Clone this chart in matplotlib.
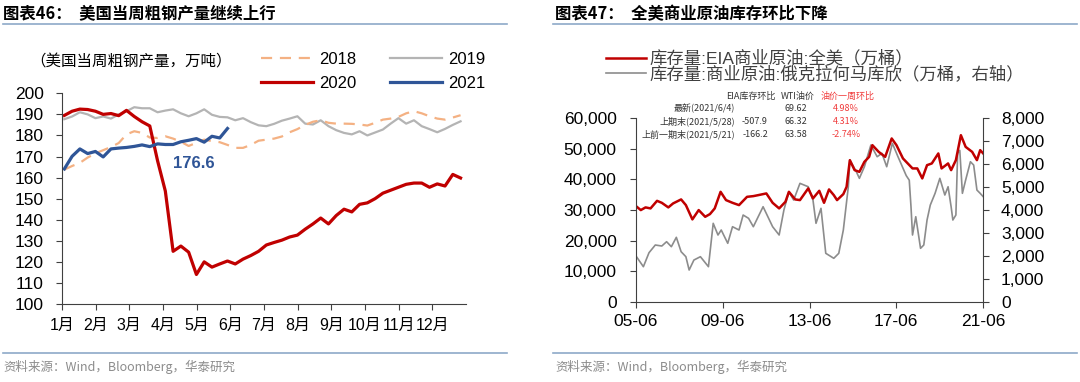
import matplotlib
matplotlib.use('Agg')
import matplotlib.pyplot as plt
from matplotlib.lines import Line2D
import numpy as np

plt.rcParams['font.family'] = ['Liberation Sans', 'Noto Sans CJK SC']

# ---------------- left chart: US weekly crude steel output (万吨) ----------------
months = ['1月', '2月', '3月', '4月', '5月', '6月', '7月', '8月', '9月', '10月', '11月', '12月']

steel_2018 = [163.8, 165.5, 167, 169.5, 171.5, 173, 174.5, 176.4, 180.5, 182, 181.2, 179,
              178.8, 179.6, 178.5, 177, 175, 176.5, 178, 177.3, 176.8, 175.5, 174.1, 174.1,
              175.5, 177.5, 178, 178.5, 179.5, 181.5, 183, 185, 186.5, 187.2, 186, 185.6,
              185.6, 185.5, 185.2, 184.7, 186, 187.5, 188, 188.8, 190.5, 191.5, 190.5, 189.1,
              188, 187.5, 188.5, 189.6]
steel_2019 = [187.7, 189, 191, 190, 188.2, 189, 188, 190, 191.5, 193.4, 192.9, 192.9,
              191, 191.8, 192.4, 190.5, 189.1, 190.5, 192.4, 189.8, 188.8, 188.6, 187.2, 188.2,
              186.3, 184.8, 184.4, 185.5, 187, 188, 189.1, 185.6, 185.2, 187.2, 184.4, 182.5,
              181.2, 180.5, 182, 180, 181.4, 182.8, 185.6, 188.2, 185.6, 187.2, 184.4, 183,
              181.5, 183.1, 185, 186.7]
steel_2020 = [189.5, 191.5, 192.5, 192.3, 191.5, 190, 190.4, 189.4, 191.9, 189, 186.5, 184.5,
              168, 153.6, 125, 127.5, 124.6, 114, 120, 117.5, 119, 120.4, 119, 121.3,
              123, 125, 128, 129.2, 130.3, 131.8, 132.7, 135.5, 138, 140.8, 138, 142,
              145, 143.7, 147.3, 148, 150, 152.6, 154, 155.4, 156.8, 157.4, 157.4, 155.4,
              157, 156, 161.5, 159.8]
steel_2021 = [164.1, 170.1, 173.6, 171.4, 172.4, 169.8, 173.6, 174, 174.3, 174.8, 175.5, 174.7,
              176, 175.7, 175.7, 177, 177.7, 178.5, 176.8, 179.6, 178.8, 183.3]
label_2021 = '176.6'

# ---------------- right chart: crude inventories (万桶) ----------------
eia_t = [2005.42, 2005.64, 2005.86, 2006.09, 2006.39, 2006.61, 2006.91, 2007.13, 2007.50, 2007.72,
         2008.02, 2008.31, 2008.61, 2008.83, 2009.05, 2009.32, 2009.57, 2009.87, 2010.17, 2010.54,
         2010.83, 2011.06, 2011.43, 2011.72, 2012.02, 2012.31, 2012.47, 2012.76, 2012.98, 2013.36,
         2013.58, 2013.87, 2014.09, 2014.32, 2014.54, 2014.69, 2014.98, 2015.13, 2015.28, 2015.50,
         2015.72, 2015.95, 2016.17, 2016.32, 2016.61, 2016.91, 2017.21, 2017.43, 2017.73, 2017.95,
         2018.17, 2018.39, 2018.62, 2018.84, 2019.06, 2019.36, 2019.51, 2019.81, 2019.95, 2020.17,
         2020.40, 2020.62, 2020.92, 2021.14, 2021.29, 2021.43]
eia_v = [31270, 29970, 30850, 30520, 33000, 32350, 30850, 32150, 33460, 31600,
         26930, 29970, 27780, 28660, 30520, 35950, 33240, 32350, 31600, 34310,
         34540, 34870, 35420, 32350, 30520, 32680, 35950, 33460, 33240, 37060,
         33790, 36280, 32350, 36730, 34870, 33240, 35200, 37580, 46310, 43040,
         42480, 45750, 47390, 51210, 49020, 47390, 53400, 51210, 46860, 45230,
         43600, 43600, 40330, 44670, 45230, 48500, 43600, 45230, 43040, 46310,
         54480, 50650, 49020, 46310, 49580, 48500]

cushing_t = [2005.42, 2005.76, 2006.02, 2006.31, 2006.61, 2006.83, 2007.05, 2007.28, 2007.50, 2007.72,
             2007.87, 2008.09, 2008.39, 2008.76, 2008.98, 2009.20, 2009.35, 2009.65, 2009.87, 2010.17,
             2010.36, 2010.61, 2010.83, 2011.28, 2011.72, 2012.02, 2012.24, 2012.47, 2012.69, 2012.98,
             2013.36, 2013.58, 2013.72, 2013.95, 2014.17, 2014.54, 2014.77, 2014.98, 2015.21, 2015.28,
             2015.58, 2015.72, 2015.95, 2016.25, 2016.54, 2016.76, 2016.98, 2017.24, 2017.50, 2017.65,
             2017.88, 2018.02, 2018.10, 2018.17, 2018.32, 2018.54, 2018.69, 2018.84, 2018.99, 2019.21,
             2019.43, 2019.66, 2019.81, 2019.95, 2020.03, 2020.17, 2020.25, 2020.35, 2020.47, 2020.62,
             2020.84, 2020.99, 2021.14, 2021.29, 2021.43]
cushing_v = [1993, 1527, 2137, 2473, 2429, 2617, 2399, 2808, 2181, 1963,
             1382, 1818, 1963, 1527, 3419, 2909, 3127, 2547, 3271, 3127,
             3781, 3637, 3271, 4143, 3271, 2909, 4000, 4797, 4435, 5163,
             5015, 4435, 3419, 4073, 2111, 1893, 2111, 3127, 5015, 6180,
             5669, 5381, 5887, 6834, 6324, 6472, 5887, 6908, 6324, 6000,
             5500, 5300, 4143, 2909, 3707, 2329, 2473, 3563, 4217, 4727,
             5381, 4653, 5015, 4143, 3563, 3781, 6472, 6600, 4727, 5308,
             6106, 5960, 4870, 4727, 4580]
date_ticks = ['05-06', '09-06', '13-06', '17-06', '21-06']

# table rows printed inside the right chart
tbl_head = ['EIA库存环比', 'WTI油价', '油价一周环比']
tbl_name = ['最新(2021/6/4)', '上期末(2021/5/28)', '上前一期末(2021/5/21)']
tbl_eia = ['', '-507.9', '-166.2']
tbl_wti = ['69.62', '66.32', '63.58']
tbl_chg = ['4.98%', '4.31%', '-2.74%']

W, H = 1080, 382
fig = plt.figure(figsize=(W / 100, H / 100), dpi=100)


def fx(px):
    return px / W


def fy(py):
    return 1 - py / H


ink = '#404040'
cjk = ['Noto Sans CJK SC']

# ---------- left ----------
ax1 = fig.add_axes([fx(62), fy(304), fx(466 - 62), (304 - 93.3) / H])
weeks = np.arange(52) + 0.3
l19, = ax1.plot(weeks, steel_2019, color='#B4B4B4', lw=1.6, label='2019')
l18, = ax1.plot(weeks, steel_2018, color='#F4B183', lw=1.6, dashes=(5, 3.5), label='2018')
l20, = ax1.plot(weeks, steel_2020, color='#C00000', lw=2.3, label='2020')
l21, = ax1.plot(np.arange(len(steel_2021)) + 0.3, steel_2021, color='#2F5597', lw=2.3, label='2021')
ax1.text(17, 166.5, label_2021, color='#2F5597', fontsize=12, fontweight='bold',
         ha='center', va='center')

ax1.set_xlim(0, 52)
ax1.set_ylim(100, 200)
ax1.set_yticks(np.arange(100, 201, 10))
ax1.set_xticks(np.arange(12) * 52 / 12)
ax1.set_xticklabels(months)
for s in ['top', 'right']:
    ax1.spines[s].set_visible(False)
for s in ['left', 'bottom']:
    ax1.spines[s].set_color(ink)
ax1.tick_params(axis='y', direction='out', length=4, color=ink, labelsize=12.5, pad=9)
ax1.tick_params(axis='x', direction='out', length=4, color=ink, labelsize=11.5, pad=6)

ax1.legend(handles=[l18, l20, l19, l21], ncol=2, loc='upper left',
           bbox_to_anchor=(fx(261), fy(52)), bbox_transform=fig.transFigure,
           frameon=False, fontsize=12, handlelength=3.1, handletextpad=0.4,
           columnspacing=2.0, labelspacing=0.55, borderpad=0, borderaxespad=0)
fig.text(fx(30), fy(62), '（美国当周粗钢产量，万吨）', fontsize=11.2, va='center', family=cjk)

# ---------- right ----------
ax2 = fig.add_axes([fx(636), fy(301.7), fx(983 - 636), (301.7 - 118.3) / H])
ax3 = ax2.twinx()
ax2.set_zorder(ax3.get_zorder() + 1)
ax2.patch.set_visible(False)

lg, = ax3.plot(cushing_t, cushing_v, color='#8C8C8C', lw=1.2)
lr, = ax2.plot(eia_t, eia_v, color='#C00000', lw=1.8)

ax2.set_xlim(2005.42, 2021.42)
ax2.set_ylim(0, 60000)
ax3.set_ylim(0, 8000)
ax2.set_xticks([2005.42 + 4 * k for k in range(5)])
ax2.set_xticklabels(date_ticks)
ax2.set_yticks(np.arange(0, 60001, 10000))
ax3.set_yticks(np.arange(0, 8001, 1000))
ax2.yaxis.set_major_formatter(matplotlib.ticker.StrMethodFormatter('{x:,.0f}'))
ax3.yaxis.set_major_formatter(matplotlib.ticker.StrMethodFormatter('{x:,.0f}'))
for a in (ax2, ax3):
    a.spines['top'].set_visible(False)
ax2.spines['right'].set_visible(False)
ax3.spines['left'].set_visible(False)
ax3.spines['bottom'].set_visible(False)
ax2.spines['left'].set_color(ink)
ax2.spines['bottom'].set_color(ink)
ax3.spines['right'].set_color(ink)
ax2.tick_params(axis='y', direction='out', length=4, color=ink, labelsize=12.5, pad=10)
ax2.tick_params(axis='x', direction='out', length=4, color=ink, labelsize=12.5, pad=5)
ax3.tick_params(axis='y', direction='out', length=4, color=ink, labelsize=12.5, pad=9)

ax2.legend([lr, lg], ['库存量:EIA商业原油:全美（万桶）', '库存量:商业原油:俄克拉何马库欣（万桶，右轴）'],
           loc='upper left', bbox_to_anchor=(fx(606), fy(50)), bbox_transform=fig.transFigure,
           frameon=False, handlelength=2.3, handletextpad=0.2,
           labelspacing=-0.08, borderpad=0, borderaxespad=0, labelcolor='#404040',
           prop={'family': ['Liberation Sans', 'Noto Sans CJK SC'], 'size': 12.5})

# table
tfs = 6.5
red_txt = '#F03C3C'
for txt, x, c in zip(tbl_head, [751, 798, 848], ['#333333', '#333333', red_txt]):
    fig.text(fx(x), fy(96), txt, fontsize=tfs, ha='center', va='center', color=c, family=cjk)
for i, y in enumerate([108.3, 121, 134.5]):
    fig.text(fx(735), fy(y), tbl_name[i], fontsize=tfs, ha='right', va='center', color='#333333', family=cjk)
    fig.text(fx(755), fy(y), tbl_eia[i], fontsize=tfs, ha='center', va='center', color='#333333', family=cjk)
    fig.text(fx(796), fy(y), tbl_wti[i], fontsize=tfs, ha='center', va='center', color='#333333', family=cjk)
    fig.text(fx(846), fy(y), tbl_chg[i], fontsize=tfs, ha='center', va='center', color=red_txt, family=cjk)

# ---------- titles, rules, sources ----------
rule = '#8EA9C8'
fig.text(fx(3), fy(14), '图表46：  美国当周粗钢产量继续上行', fontsize=11.8, fontweight='bold',
         va='center', family=cjk)
fig.text(fx(555), fy(14), '图表47：  全美商业原油库存环比下降', fontsize=11.8, fontweight='bold',
         va='center', family=cjk)
for x0, x1 in [(3, 507), (553, 1077)]:
    fig.add_artist(Line2D([fx(x0), fx(x1)], [fy(24), fy(24)], color=rule, lw=1.2))
    fig.add_artist(Line2D([fx(x0), fx(x1)], [fy(353), fy(353)], color=rule, lw=1.2))
fig.text(fx(3), fy(367), '资料来源：Wind，Bloomberg，华泰研究', fontsize=9, color='#8C8C8C',
         va='center', family=cjk)
fig.text(fx(555), fy(367), '资料来源：Wind，Bloomberg，华泰研究', fontsize=9, color='#8C8C8C',
         va='center', family=cjk)

fig.savefig('out.png', dpi=100)
